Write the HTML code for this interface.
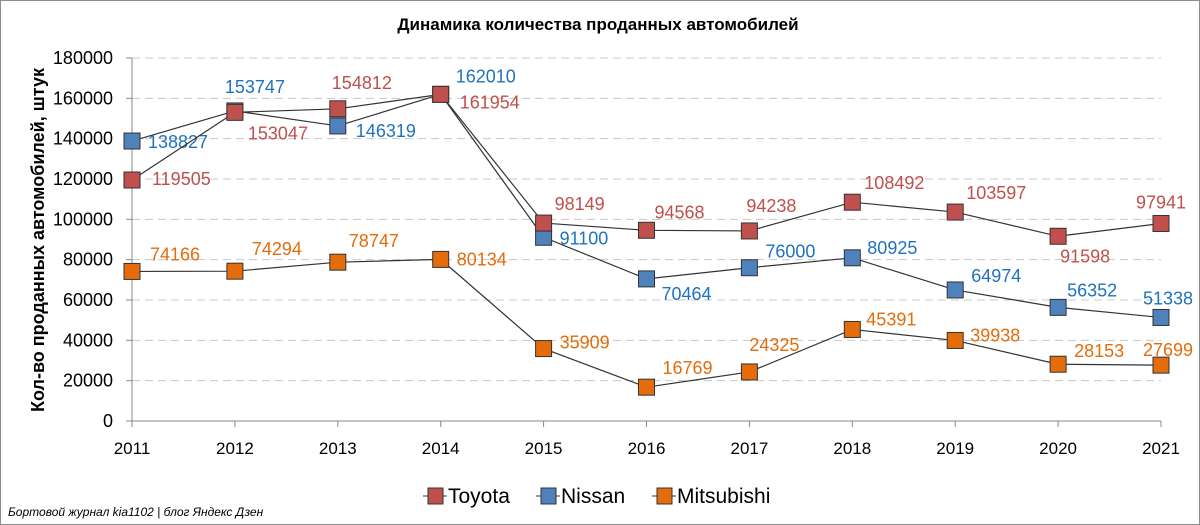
<!DOCTYPE html>
<html><head><meta charset="utf-8"><style>
body{margin:0;background:#fff}
svg{display:block;font-family:"Liberation Sans","DejaVu Sans",sans-serif}
</style></head><body>
<svg id="chart" width="1200" height="525" viewBox="0 0 1200 525">
<rect x="0.5" y="0.5" width="1199" height="524" fill="#fff" stroke="#8c8c8c"/>
<text x="598" y="30" text-anchor="middle" font-size="17" font-weight="bold" fill="#000">Динамика количества проданных автомобилей</text>
<text transform="translate(44,240) rotate(-90)" text-anchor="middle" font-size="18" font-weight="bold" fill="#000">Кол-во проданных автомобилей, штук</text>
<g id="grid"></g><g id="axes"></g><g id="series"></g>
<g font-size="21" fill="#000">
<g><line x1="423" y1="496" x2="447" y2="496" stroke="#333"/><rect x="428" y="488" width="15" height="16" fill="#c0504d" stroke="#333"/><text x="448" y="503">Toyota</text></g>
<g><line x1="536" y1="496" x2="560" y2="496" stroke="#333"/><rect x="541" y="488" width="15" height="16" fill="#4f81bd" stroke="#333"/><text x="561" y="503">Nissan</text></g>
<g><line x1="652" y1="496" x2="676" y2="496" stroke="#333"/><rect x="657" y="488" width="15" height="16" fill="#e46c0a" stroke="#333"/><text x="677" y="503">Mitsubishi</text></g>
</g>
<text x="8" y="516" font-size="12" font-style="italic" fill="#000">Бортовой журнал kia1102 | блог Яндекс Дзен</text>
</svg>
<script>
const years=[2011,2012,2013,2014,2015,2016,2017,2018,2019,2020,2021];
const toyota=[119505,153047,154812,161954,98149,94568,94238,108492,103597,91598,97941];
const nissan=[138827,153747,146319,162010,91100,70464,76000,80925,64974,56352,51338];
const mitsubishi=[74166,74294,78747,80134,35909,16769,24325,45391,39938,28153,27699];
const yTicks=[0,20000,40000,60000,80000,100000,120000,140000,160000,180000];
// label placement offsets (styling)
const tDx=[20,13,-6,19,11,8,-3,12,11,2,-25],tDy=[-1,21,-26,8,-19,-18,-25,-19,-19,20,-21];
const nDx=[16,-10,18,15,16,15,16,15,16,9,-18],nDy=[1,-24,5,-18,1,15,-16,-10,-14,-17,-19];
const mDx=[18,17,11,16,16,16,0,14,15,16,-18],mDy=[-17,-22,-21,0,-6,-19,-27,-10,-5,-13,-15];
const X0=132,X1=1161,Y0=421,Y1=58,YMAX=180000;
const x=i=>X0+(X1-X0)*i/(years.length-1);
const y=v=>Y0-(Y0-Y1)*v/YMAX;
const NS='http://www.w3.org/2000/svg';
function mk(t,a,p){const e=document.createElementNS(NS,t);for(const k in a)e.setAttribute(k,a[k]);p.appendChild(e);return e;}
const grid=document.getElementById('grid'),axes=document.getElementById('axes'),ser=document.getElementById('series');
yTicks.forEach(v=>{
 if(v>0){const g=mk('line',{x1:X0,x2:X1,y1:y(v),y2:y(v),stroke:'#c8c8c8','stroke-dasharray':'8,5'},grid);
 
 }
 const tk=mk('line',{x1:X0-6,x2:X0,y1:y(v),y2:y(v),stroke:'#888'},axes);
 
 
 const t=mk('text',{x:X0-19,y:y(v)+6,'text-anchor':'end','font-size':'18',fill:'#000'},axes);t.textContent=v;
 
 
});
const ya=mk('line',{x1:X0,x2:X0,y1:Y1,y2:Y0,stroke:'#888'},axes);


const xa=mk('line',{x1:X0,x2:X1,y1:Y0,y2:Y0,stroke:'#888'},axes);


years.forEach((yr,i)=>{
 const tk=mk('line',{x1:x(i),x2:x(i),y1:Y0,y2:Y0+6,stroke:'#888'},axes);
 
 
 const t=mk('text',{x:x(i),y:Y0+33,'text-anchor':'middle','font-size':'17',fill:'#000'},axes);t.textContent=yr;
 
 
});
function draw(vals,color,lc,name,dx,dy){
 const g=mk('g',{},ser);
 
 
 const p=mk('polyline',{points:vals.map((v,i)=>x(i)+','+y(v)).join(' '),fill:'none',stroke:'#333','stroke-width':'1.2'},g);
 
 
 vals.forEach((v,i)=>{
  const r=mk('rect',{x:x(i)-8,y:y(v)-8,width:16,height:16,fill:color,stroke:'#333','stroke-width':'1'},g);
  
  
 });
 vals.forEach((v,i)=>{
  const t=mk('text',{x:x(i)+dx[i],y:y(v)+dy[i]+6,'font-size':'18',fill:lc},g);t.textContent=v;
  
  
 });
}
draw(mitsubishi,'#e46c0a','#e46c0a','mitsubishi',mDx,mDy);
draw(nissan,'#4f81bd','#1f72c0','nissan',nDx,nDy);
draw(toyota,'#c0504d','#c0504d','toyota',tDx,tDy);
</script>
</body></html>
